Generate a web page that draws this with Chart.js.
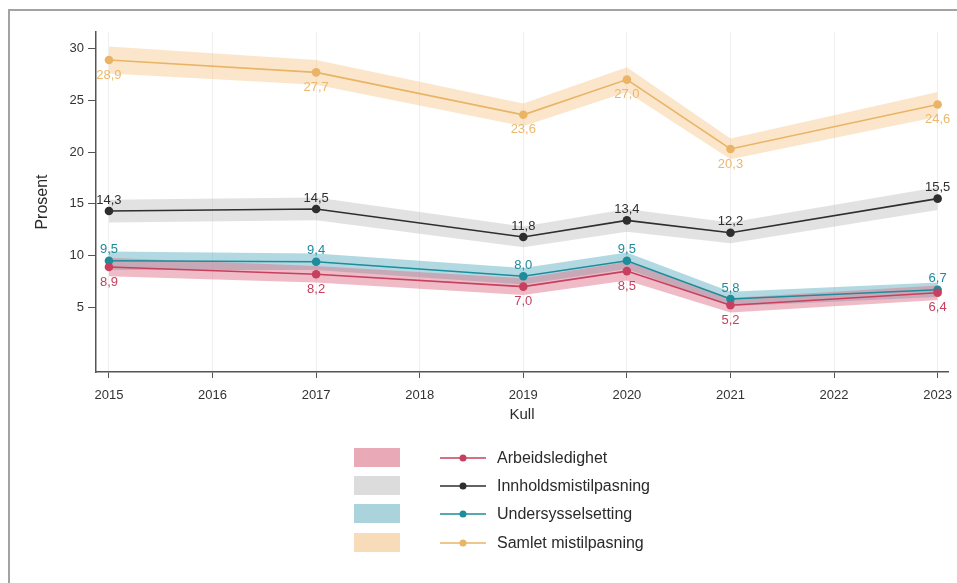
<!DOCTYPE html>
<html>
<head>
<meta charset="utf-8">
<script src="https://cdn.jsdelivr.net/npm/chart.js@4.4.1/dist/chart.umd.min.js"></script>
<style>
  html, body { margin: 0; padding: 0; background: #fff; }
  #wrap { position: relative; width: 957px; height: 583px; }
  #frame { position: absolute; left: 8px; top: 9px; right: -4px; bottom: -4px;
           border-left: 2px solid #a3a3a3; border-top: 2px solid #a3a3a3; pointer-events: none; }
  canvas { position: absolute; left: 0; top: 0; }
</style>
</head>
<body>
<div id="wrap">
  <canvas id="c" width="957" height="583"></canvas>
  <div id="frame"></div>
</div>
<script>
// Cohorts (Kull)
const years = [2015, 2017, 2019, 2020, 2021, 2023];
const xTicks = [2015, 2016, 2017, 2018, 2019, 2020, 2021, 2022, 2023];
const yTicks = [5, 10, 15, 20, 25, 30];

// Shares in percent, with 95% confidence bounds
const arbeidsledighet = [8.9, 8.2, 7.0, 8.5, 5.2, 6.4];
const arbeidsLo = [8.0, 7.4, 6.2, 7.6, 4.5, 5.7];
const arbeidsHi = [9.8, 9.0, 7.8, 9.4, 5.9, 7.1];

const innholdsmistilpasning = [14.3, 14.5, 11.8, 13.4, 12.2, 15.5];
const innholdLo = [13.2, 13.4, 10.8, 12.3, 11.2, 14.4];
const innholdHi = [15.4, 15.6, 12.8, 14.5, 13.2, 16.6];

const undersysselsetting = [9.5, 9.4, 8.0, 9.5, 5.8, 6.7];
const underLo = [8.6, 8.6, 7.2, 8.7, 5.1, 6.0];
const underHi = [10.4, 10.2, 8.8, 10.3, 6.5, 7.4];

const samletMistilpasning = [28.9, 27.7, 23.6, 27.0, 20.3, 24.6];
const samletLo = [27.6, 26.5, 22.5, 25.8, 19.3, 23.4];
const samletHi = [30.2, 28.9, 24.7, 28.2, 21.3, 25.8];

const series = [
  { name: 'Arbeidsledighet', values: arbeidsledighet, lo: arbeidsLo, hi: arbeidsHi,
    line: '#c8405f', label: '#c8405f', band: 'rgba(222,120,142,0.5)', swatch: '#e9a9b6', place: 'below' },
  { name: 'Innholdsmistilpasning', values: innholdsmistilpasning, lo: innholdLo, hi: innholdHi,
    line: '#2e2e2e', label: '#2e2e2e', band: 'rgba(190,190,190,0.45)', swatch: '#dcdcdc', place: 'above' },
  { name: 'Undersysselsetting', values: undersysselsetting, lo: underLo, hi: underHi,
    line: '#1e8c9a', label: '#1e8c9a', band: 'rgba(95,175,192,0.48)', swatch: '#aad3db', place: 'above' },
  { name: 'Samlet mistilpasning', values: samletMistilpasning, lo: samletLo, hi: samletHi,
    line: '#e9b466', label: '#ebb86e', band: 'rgba(246,200,140,0.45)', swatch: '#f8dcb9', place: 'below' }
];

const pts = arr => arr.map((v, i) => ({ x: years[i], y: v }));

const datasets = [];
series.forEach(s => {
  datasets.push({
    label: s.name, data: pts(s.values), borderColor: s.line, backgroundColor: s.line,
    borderWidth: 1.6, pointRadius: 4.3, pointBorderWidth: 0, fill: false, order: 1, tension: 0
  });
});
series.forEach(s => {
  datasets.push({
    label: s.name + ' hi', data: pts(s.hi), borderWidth: 0, borderColor: 'rgba(0,0,0,0)',
    backgroundColor: s.band, pointRadius: 0, fill: '+1', order: 2, tension: 0
  });
  datasets.push({
    label: s.name + ' lo', data: pts(s.lo), borderWidth: 0, borderColor: 'rgba(0,0,0,0)',
    backgroundColor: 'rgba(0,0,0,0)', pointRadius: 0, fill: false, order: 2, tension: 0
  });
});

const FONT = '"Liberation Sans", Arial, sans-serif';

// Value labels next to each point
const valueLabels = {
  id: 'valueLabels',
  afterDatasetsDraw(chart) {
    const ctx = chart.ctx;
    ctx.save();
    ctx.font = '13px ' + FONT;
    ctx.textAlign = 'center';
    ctx.textBaseline = 'middle';
    series.forEach((s, i) => {
      const meta = chart.getDatasetMeta(i);
      ctx.fillStyle = s.label;
      meta.data.forEach((p, j) => {
        const txt = s.values[j].toFixed(1).replace('.', ',');
        const dy = s.place === 'above' ? -11 : 15;
        ctx.fillText(txt, p.x, p.y + dy);
      });
    });
    ctx.restore();
  }
};

// Legend: band swatches on the left, line samples with names on the right
const sideLegend = {
  id: 'sideLegend',
  afterDraw(chart) {
    const ctx = chart.ctx;
    ctx.save();
    const rows = [458, 486, 514, 543];
    series.forEach((s, i) => {
      const y = rows[i];
      ctx.fillStyle = s.swatch;
      ctx.fillRect(354, y - 10, 46, 19);
      ctx.strokeStyle = s.line;
      ctx.lineWidth = 1.6;
      ctx.beginPath();
      ctx.moveTo(440, y);
      ctx.lineTo(486, y);
      ctx.stroke();
      ctx.fillStyle = s.line;
      ctx.beginPath();
      ctx.arc(463, y, 3.5, 0, Math.PI * 2);
      ctx.fill();
      ctx.fillStyle = '#2a2a2a';
      ctx.font = '16px ' + FONT;
      ctx.textAlign = 'left';
      ctx.textBaseline = 'middle';
      ctx.fillText(s.name, 497, y + 1);
    });
    ctx.restore();
  }
};

new Chart(document.getElementById('c'), {
  type: 'line',
  data: { datasets },
  plugins: [valueLabels, sideLegend],
  options: {
    responsive: false,
    animation: false,
    layout: { padding: { left: 33, top: 32, right: 9, bottom: 159 } },
    plugins: { legend: { display: false }, tooltip: { enabled: false } },
    scales: {
      x: {
        type: 'linear', min: 2014.875, max: 2023.1,
        afterBuildTicks: sc => { sc.ticks = xTicks.map(v => ({ value: v })); },
        afterFit: sc => { sc.height = 52; sc.paddingLeft = 0; sc.paddingRight = 0; },
        grid: { color: '#efefef', lineWidth: 1, tickColor: '#555', tickLength: 6, drawOnChartArea: true },
        border: { color: '#555', width: 1.5 },
        ticks: { font: { family: FONT, size: 13 }, color: '#333', padding: 10, maxRotation: 0,
                 callback: v => String(v) },
        title: { display: true, text: 'Kull', font: { family: FONT, size: 15 }, color: '#2a2a2a', padding: { top: 0, bottom: 0 } }
      },
      y: {
        type: 'linear', min: -1.25, max: 31.6,
        afterBuildTicks: sc => { sc.ticks = yTicks.map(v => ({ value: v })); },
        afterFit: sc => { sc.width = 63; },
        grid: { drawOnChartArea: false, tickColor: '#555', tickLength: 8 },
        border: { color: '#555', width: 1.5 },
        ticks: { font: { family: FONT, size: 13 }, color: '#333', padding: 4 },
        title: { display: true, text: 'Prosent', font: { family: FONT, size: 16 }, color: '#2a2a2a', padding: { top: 0, bottom: 0 } }
      }
    }
  }
});
</script>
</body>
</html>
